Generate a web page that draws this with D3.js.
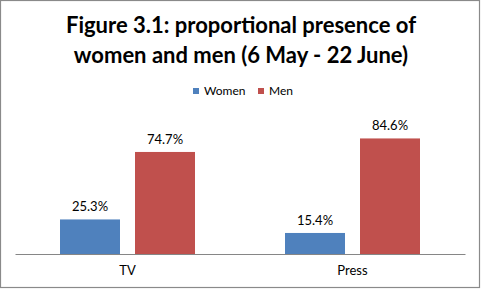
<!DOCTYPE html>
<html>
<head>
<meta charset="utf-8">
<script src="https://cdn.jsdelivr.net/npm/d3@7"></script>
<style>
  body { margin: 0; background: #fff; }
  text { font-family: Lato, "Open Sans", sans-serif; }
</style>
</head>
<body>
<div id="chart"></div>
<script>
// chart data
var categories = ["TV", "Press"];
var seriesNames = ["Women", "Men"];
var women = [25.3, 15.4];
var men = [74.7, 84.6];
var colors = ["#4F81BD", "#C0504D"];
var titleLines = ["Figure 3.1: proportional presence of", "women and men (6 May - 22 June)"];

var svgWidth = 481, svgHeight = 289;

var svg = d3.select("#chart")
    .append("svg")
    .attr("width", svgWidth)
    .attr("height", svgHeight);

svg.append("rect")
    .attr("x", 0.5).attr("y", 0.5)
    .attr("width", 479).attr("height", 287)
    .attr("fill", "#fff")
    .attr("stroke", "#8a8a8a")
    .attr("stroke-width", 1.2);

// title
svg.append("g").selectAll("text")
    .data(titleLines)
    .enter().append("text")
    .attr("x", 241)
    .attr("y", (d, i) => 33 + i * 30)
    .attr("text-anchor", "middle")
    .attr("font-size", 22)
    .attr("font-weight", "bold")
    .attr("fill", "#000")
    .text(d => d);

// scales
var x0 = d3.scaleBand().domain(categories).range([15, 465]);
var x1 = d3.scaleBand().domain(seriesNames).range([45, 180]).paddingInner(0.2);
var y = d3.scaleLinear().domain([0, 100]).range([254, 117.4]);

var rows = categories.map((c, i) => ({cat: c, vals: [women[i], men[i]]}));

var groups = svg.selectAll(".grp")
    .data(rows)
    .enter().append("g")
    .attr("transform", d => `translate(${x0(d.cat)},0)`);

groups.selectAll("rect")
    .data(d => d.vals.map((v, j) => ({name: seriesNames[j], v: v, j: j})))
    .enter().append("rect")
    .attr("x", d => x1(d.name))
    .attr("y", d => y(d.v))
    .attr("width", x1.bandwidth())
    .attr("height", d => y(0) - y(d.v))
    .attr("fill", d => colors[d.j]);

groups.selectAll(".lbl")
    .data(d => d.vals.map((v, j) => ({name: seriesNames[j], v: v})))
    .enter().append("text")
    .attr("x", d => x1(d.name) + x1.bandwidth() / 2)
    .attr("y", d => y(d.v) - 8)
    .attr("text-anchor", "middle")
    .attr("font-size", 13)
    .attr("fill", "#000")
    .text(d => d.v.toFixed(1) + "%");

// x axis
var xAxis = d3.axisBottom(x0).tickSize(0).tickPadding(12);
var axG = svg.append("g")
    .attr("transform", `translate(0, ${y(0)})`)
    .call(xAxis);
axG.select(".domain").attr("stroke", "#868686");
axG.selectAll("text")
    .attr("font-size", 13)
    .attr("font-family", "Lato, 'Open Sans', sans-serif")
    .attr("fill", "#000");

// legend
var legend = svg.append("g");
var legX = [193, 258];
seriesNames.forEach(function(n, i) {
    legend.append("rect")
        .attr("x", legX[i]).attr("y", 88)
        .attr("width", 6).attr("height", 6)
        .attr("fill", colors[i]);
    legend.append("text")
        .attr("x", legX[i] + 11).attr("y", 95)
        .attr("font-size", 12)
        .attr("fill", "#000")
        .text(n);
});
</script>
</body>
</html>
